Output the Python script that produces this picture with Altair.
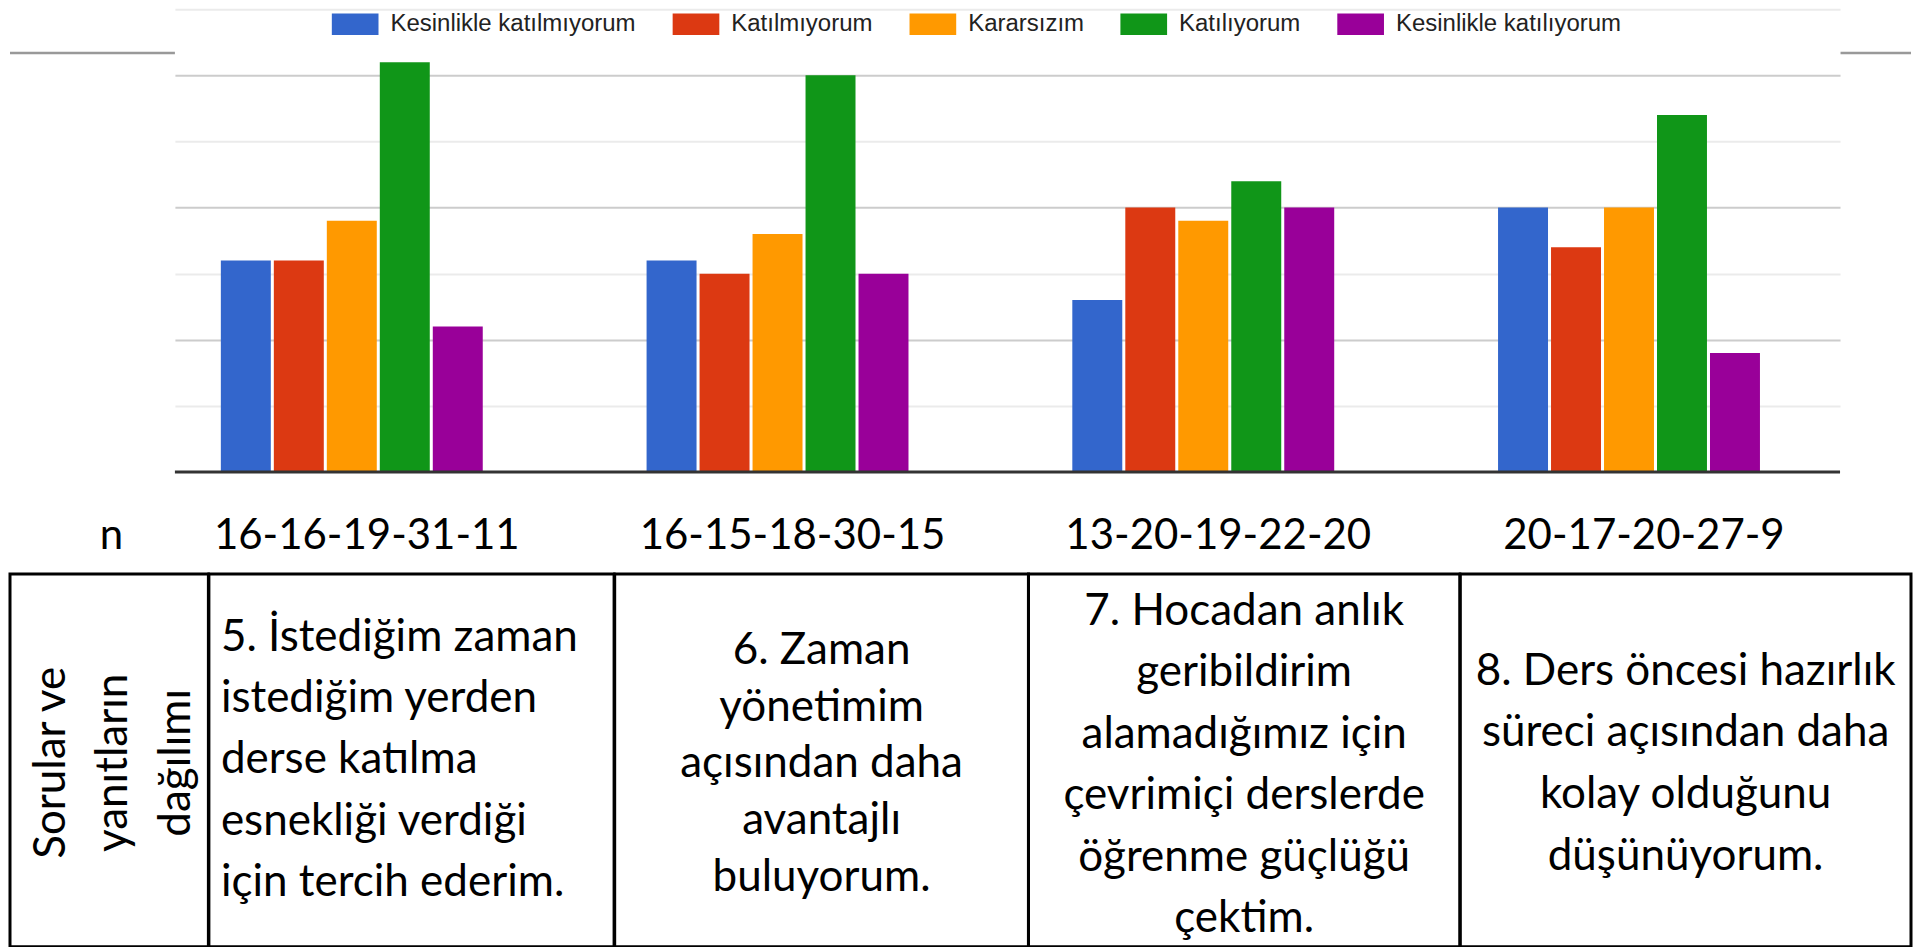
import altair as alt
import pandas as pd

# ---------------- data ----------------
RESPONSES = ["Kesinlikle katılmıyorum", "Katılmıyorum", "Kararsızım",
             "Katılıyorum", "Kesinlikle katılıyorum"]
COLORS = ["#3366cc", "#dc3912", "#ff9900", "#109618", "#990099"]
N_LABELS = ["16-16-19-31-11", "16-15-18-30-15", "13-20-19-22-20", "20-17-20-27-9"]

KESINLIKLE_KATILMIYORUM = [16, 16, 13, 20]
KATILMIYORUM = [16, 15, 20, 17]
KARARSIZIM = [19, 18, 19, 20]
KATILIYORUM = [31, 30, 22, 27]
KESINLIKLE_KATILIYORUM = [11, 15, 20, 9]
SERIES = [KESINLIKLE_KATILMIYORUM, KATILMIYORUM, KARARSIZIM,
          KATILIYORUM, KESINLIKLE_KATILIYORUM]

GRID_VALUES = [5, 10, 15, 20, 25, 30, 35]

ROW_HEADER = ["Sorular ve", "yanıtların", "dağılımı"]
Q5 = ["5. İstediğim zaman", "istediğim yerden", "derse katılma",
      "esnekliği verdiği", "için tercih ederim."]
Q6 = ["6. Zaman", "yönetimim", "açısından daha", "avantajlı", "buluyorum."]
Q7 = ["7. Hocadan anlık", "geribildirim", "alamadığımız için",
      "çevrimiçi derslerde", "öğrenme güçlüğü", "çektim."]
Q8 = ["8. Ders öncesi hazırlık", "süreci açısından daha",
      "kolay olduğunu", "düşünüyorum."]

rows = []
for i, n in enumerate(N_LABELS):
    for r, vals in zip(RESPONSES, SERIES):
        rows.append({"n": n, "resp": r, "count": vals[i]})
df = pd.DataFrame(rows)

TEXT_FONT = "Lato"
TEXT_SIZE = 44
AXIS_SIZE = 42
PLOT_W = 1666
PLOT_H = 463
Y_SCALE = alt.Scale(domain=[0, 35], nice=False)

# ---------------- bar chart ----------------
bars = alt.Chart(df).mark_bar().encode(
    x=alt.X(
        "n:N", sort=N_LABELS,
        scale=alt.Scale(paddingInner=0.3848, paddingOuter=0.148, align=0.3645),
        axis=alt.Axis(
            title="n", titleX=-64, titleY=64, titleAngle=0, titleAlign="center",
            titleBaseline="middle", titleFont=TEXT_FONT, titleFontSize=AXIS_SIZE,
            titleFontWeight="normal", titleColor="black",
            labelFont=TEXT_FONT, labelFontSize=AXIS_SIZE, labelColor="black",
            labelAngle=0, labelBaseline="middle", labelPadding=64, labelOffset=15,
            labelLimit=1000, ticks=False, tickSize=0, domain=False, grid=False,
        ),
    ),
    xOffset=alt.XOffset("resp:N", sort=RESPONSES,
                        scale=alt.Scale(paddingInner=0.057, paddingOuter=0)),
    y=alt.Y(
        "count:Q", scale=Y_SCALE,
        axis=alt.Axis(
            values=GRID_VALUES, grid=True, labels=False, ticks=False, domain=False,
            title=None,
            gridColor={"condition": {"test": "datum.value % 10 === 0", "value": "#cccccc"},
                       "value": "#ebebeb"},
            gridWidth=2,
        ),
    ),
    color=alt.Color(
        "resp:N", sort=RESPONSES,
        scale=alt.Scale(domain=RESPONSES, range=COLORS),
        legend=alt.Legend(
            orient="none", legendX=321, legendY=3, direction="horizontal",
            title=None, symbolType="M-2.152,-1H2.152V1H-2.152Z", symbolSize=471,
            symbolOffset=12.35, symbolStrokeWidth=0, symbolOpacity=1,
            labelFont="Liberation Sans", labelFontSize=24, labelColor="#222222",
            labelOffset=23.3, columnPadding=35, labelLimit=600, padding=0,
        ),
    ),
)

baseline = alt.Chart(pd.DataFrame({"v": [0]})).mark_rule(
    color="#333333", strokeWidth=3).encode(y=alt.Y("v:Q", scale=Y_SCALE))

deco_right = alt.Chart(pd.DataFrame({"v": [31.7]})).mark_rule(
    color="#999999", strokeWidth=2.5).encode(
    y=alt.Y("v:Q", scale=Y_SCALE), x=alt.value(PLOT_W + 0.5), x2=alt.value(PLOT_W + 71))

plot = alt.layer(bars, baseline, deco_right).properties(width=PLOT_W, height=PLOT_H)

# left margin strip carrying the grey slide rule
deco_left = alt.Chart(pd.DataFrame({"v": [31.7]})).mark_rule(
    color="#999999", strokeWidth=2.5).encode(
    y=alt.Y("v:Q", scale=Y_SCALE, axis=None), x=alt.value(0), x2=alt.value(165)
).properties(width=165, height=PLOT_H)

top = alt.hconcat(deco_left, plot, spacing=0, bounds="flush")

# ---------------- table ----------------
CELL_H = 373


def cell(key, lines, width, align="center", angle=0, line_height=61.5, dx=0, dy=0):
    data = alt.Data(values=[{"key": key, "lines": lines}])
    kw = dict(font=TEXT_FONT, fontSize=TEXT_SIZE, color="black", align=align,
              baseline="middle", lineHeight=line_height, dx=dx,
              dy=dy - (len(lines) - 1) * line_height / 2)
    if angle:
        kw["angle"] = angle
    x_enc = alt.X("key:N", axis=None,
                  scale=alt.Scale(type="band", paddingInner=0, paddingOuter=0),
                  bandPosition=0 if align == "left" else 0.5)
    return alt.Chart(data).mark_text(**kw).encode(
        x=x_enc,
        y=alt.Y("key:N", axis=None),
        text=alt.Text("lines:N"),
    ).properties(width=width, height=CELL_H,
                 view=alt.ViewBackground(stroke="black", strokeWidth=3))


table = alt.hconcat(
    cell("h", ROW_HEADER, 198.5, angle=270, line_height=62.5, dx=-2.5, dy=5),
    cell("q5", Q5, 405.4, align="left", line_height=61.3, dx=12, dy=0),
    cell("q6", Q6, 414, line_height=56.7, dy=4),
    cell("q7", Q7, 431.6, line_height=61.5, dy=5),
    cell("q8", Q8, 451, line_height=61.7, dy=4),
    spacing=0, bounds="flush",
)

chart = alt.vconcat(top, table, spacing=14, padding=0, background="white").configure_view(
    stroke="transparent")

chart.save("out.html", embed_options={"renderer": "svg", "actions": False})
